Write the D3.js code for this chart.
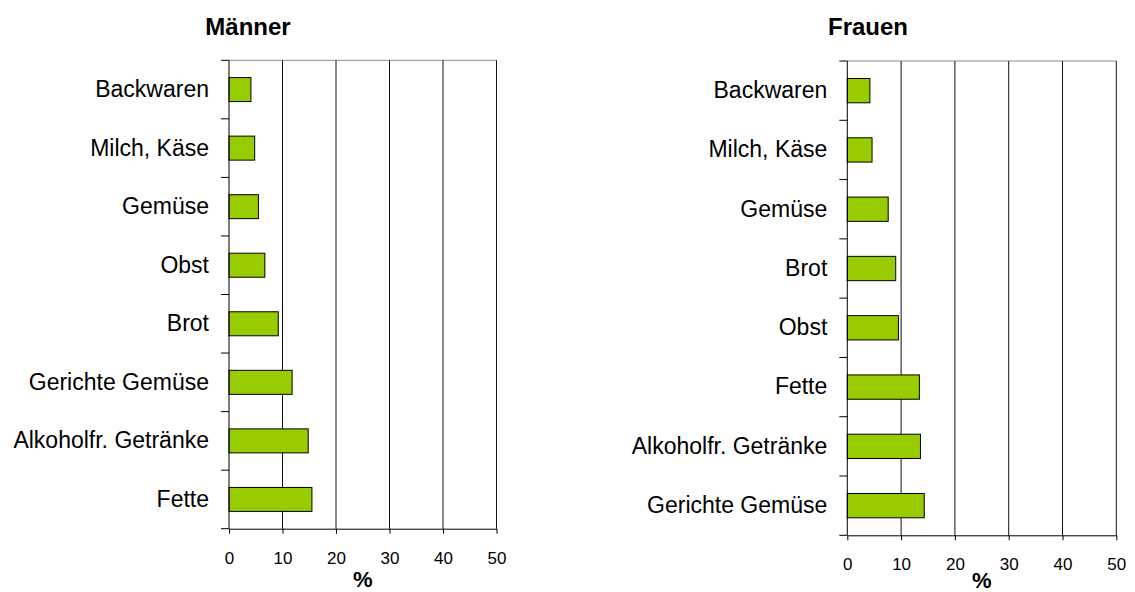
<!DOCTYPE html>
<html>
<head>
<meta charset="utf-8">
<script src="https://cdn.jsdelivr.net/npm/d3@7"></script>
<style>
  html, body { margin: 0; padding: 0; background: #fff; }
  svg { display: block; font-family: Arial, "Liberation Sans", Helvetica, sans-serif; }
</style>
</head>
<body>
<svg id="chart" width="1135" height="592"></svg>
<script>
// Anteil je Lebensmittelgruppe (%), Männer
const menCategories = ["Backwaren", "Milch, Käse", "Gemüse", "Obst", "Brot", "Gerichte Gemüse", "Alkoholfr. Getränke", "Fette"];
const menValues = [4.1, 4.8, 5.5, 6.7, 9.2, 11.8, 14.8, 15.5];

// Anteil je Lebensmittelgruppe (%), Frauen
const womenCategories = ["Backwaren", "Milch, Käse", "Gemüse", "Brot", "Obst", "Fette", "Alkoholfr. Getränke", "Gerichte Gemüse"];
const womenValues = [4.2, 4.6, 7.6, 9.0, 9.5, 13.4, 13.6, 14.3];

const xTicks = [0, 10, 20, 30, 40, 50];
const xMax = 50;
const axisTitle = "%";

const svg = d3.select("#chart");
const barColor = "#99cc00";

function drawPanel(title, cats, vals, box) {
  const g = svg.append("g");
  const x = d3.scaleLinear().domain([0, xMax]).range([box.left, box.right]);
  const y = d3.scaleBand().domain(cats).range([box.top, box.bottom]).padding(0);
  const bw = y.bandwidth();
  const bh = bw * 0.41;

  // top border of plot area
  g.append("line")
    .attr("x1", box.left).attr("x2", box.right)
    .attr("y1", box.top).attr("y2", box.top)
    .attr("stroke", "#8c8c8c").attr("stroke-width", 1);

  // vertical gridlines
  g.selectAll("line.grid").data(xTicks.filter(t => t > 0)).join("line")
    .attr("class", "grid")
    .attr("x1", d => x(d)).attr("x2", d => x(d))
    .attr("y1", box.top).attr("y2", box.bottom)
    .attr("stroke", "#111").attr("stroke-width", 1);

  // bars
  g.selectAll("rect.bar").data(cats.map((c, i) => ({ c, v: vals[i] }))).join("rect")
    .attr("class", "bar")
    .attr("x", x(0))
    .attr("y", d => y(d.c) + (bw - bh) / 2)
    .attr("width", d => x(d.v) - x(0))
    .attr("height", bh)
    .attr("fill", barColor)
    .attr("stroke", "#000").attr("stroke-width", 1);

  // category axis: labels at band centres
  const yAxis = d3.axisLeft(y).tickSize(0).tickPadding(20);
  const ya = g.append("g").attr("transform", `translate(${box.left},0)`).call(yAxis);
  ya.select(".domain").remove();
  ya.selectAll("text").attr("font-size", "23px").attr("fill", "#000")
    .attr("font-family", "Arial, 'Liberation Sans', sans-serif");

  // category boundary ticks
  const bounds = cats.map(c => y(c)).concat([box.bottom]);
  g.selectAll("line.ctick").data(bounds).join("line")
    .attr("class", "ctick")
    .attr("x1", box.left - 8).attr("x2", box.left)
    .attr("y1", d => d).attr("y2", d => d)
    .attr("stroke", "#000").attr("stroke-width", 1);

  // left axis line
  g.append("line")
    .attr("x1", box.left).attr("x2", box.left)
    .attr("y1", box.top).attr("y2", box.bottom)
    .attr("stroke", "#000").attr("stroke-width", 1);

  // value axis
  const xAxis = d3.axisBottom(x).tickValues(xTicks).tickSize(5).tickSizeOuter(0).tickPadding(18);
  const xa = g.append("g").attr("transform", `translate(0,${box.bottom})`).call(xAxis);
  xa.select(".domain").attr("stroke", "#000");
  xa.selectAll(".tick line").attr("stroke", "#000");
  xa.selectAll("text").attr("font-size", "17px").attr("fill", "#000")
    .attr("font-family", "Arial, 'Liberation Sans', sans-serif");

  // axis title
  g.append("text")
    .attr("x", (box.left + box.right) / 2)
    .attr("y", box.titleY)
    .attr("text-anchor", "middle")
    .attr("font-size", "22px").attr("font-weight", "bold")
    .text(axisTitle);

  // panel title
  g.append("text")
    .attr("x", box.titleX).attr("y", 35)
    .attr("text-anchor", "middle")
    .attr("font-size", "24px").attr("font-weight", "bold")
    .text(title);
}

drawPanel("Männer", menCategories, menValues, { left: 229, right: 496.5, top: 60.3, bottom: 528.7, titleX: 248, titleY: 586.5 });
drawPanel("Frauen", womenCategories, womenValues, { left: 847.3, right: 1116.3, top: 61, bottom: 535.3, titleX: 868, titleY: 588 });
</script>
</body>
</html>
